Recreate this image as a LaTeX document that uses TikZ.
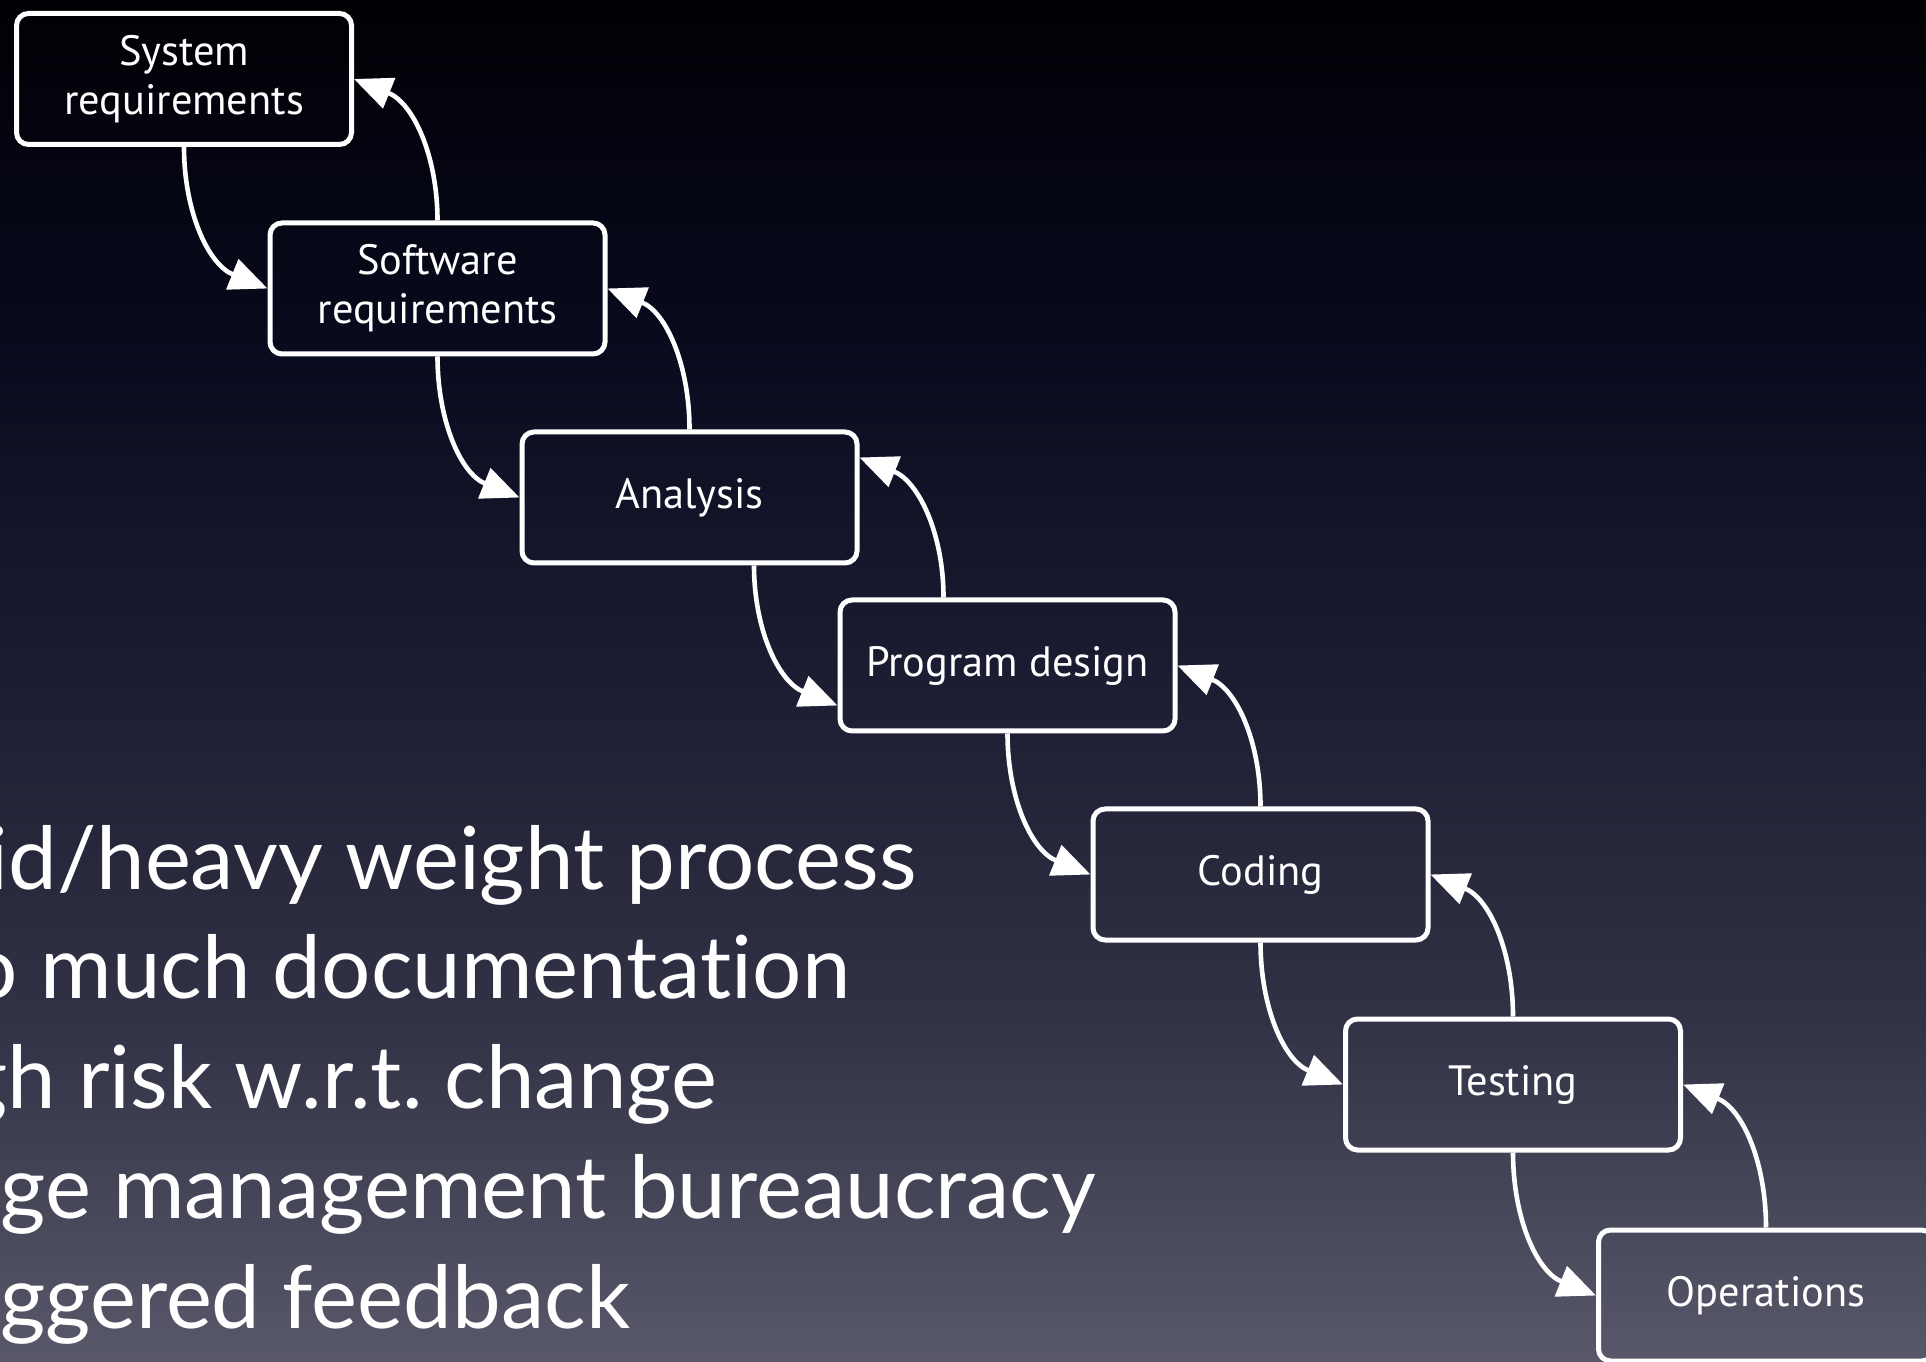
\documentclass[tikz,border=0pt]{standalone}
\usepackage{fontspec}
\setmainfont{PT Sans}
\newfontfamily\bulletfont[Ligatures=NoCommon]{Lato}
\usetikzlibrary{arrows.meta,calc}

% slide background: near-black at the top fading to slate grey at the bottom
\definecolor{bgA}{RGB}{88,88,106}
\definecolor{bgB}{RGB}{50,50,70}
\definecolor{bgC}{RGB}{28,29,50}
\definecolor{bgD}{RGB}{8,10,30}
\definecolor{bgE}{RGB}{0,0,4}
\pgfdeclareverticalshading{slidebg}{100bp}{color(0bp)=(bgA); color(25bp)=(bgA);
  color(37.5bp)=(bgB); color(50bp)=(bgC); color(62.5bp)=(bgD);
  color(75bp)=(bgE); color(100bp)=(bgE)}

\tikzset{
  stage/.style={draw=white, line width=2.5pt, rounded corners=6pt,
    minimum width=167.5pt, minimum height=65.5pt, inner sep=0pt,
    text=white, align=center, font=\fontsize{21.2}{24.5}\selectfont},
  flow/.style={white, line width=2.3pt, -{Triangle[length=19pt,width=16pt]}},
  fwd/.style={flow, out=-90, in=158},
  back/.style={flow, out=90, in=-22},
  point/.style={text=white, anchor=base west, inner sep=0pt,
    font=\bulletfont\fontsize{43.5}{54}\selectfont}
}

\begin{document}
\begin{tikzpicture}[x=0.5pt,y=0.5pt]
\useasboundingbox (0,0) rectangle (1926,1361);
\clip (0,0) rectangle (1926,1361);
\fill[shading=slidebg] (0,0) rectangle (1926,1361);

% waterfall stages
\node[stage] (sys) at (184,1282)    {System\\requirements};
\node[stage] (sw)  at (437.5,1072.5) {Software\\requirements};
\node[stage] (an)  at (689.5,863.5) {Analysis};
\node[stage] (pd)  at (1007.5,695.5) {Program design};
\node[stage] (cod) at (1260.5,486.5) {Coding};
\node[stage] (tst) at (1513,276.5)  {Testing};
\node[stage] (ops) at (1766,65.5)   {Operations};

% forward flow and feedback between neighbouring stages
\draw[fwd]  (sys.south) to (sw.west);
\draw[back] (sw.north)  to (sys.east);
\draw[fwd]  (sw.south)  to (an.west);
\draw[back] (an.north)  to (sw.east);
\draw[fwd]  ([xshift=32.25pt]an.south) to ([yshift=-20pt]pd.west);
\draw[back] ([xshift=-32pt]pd.north)   to ([yshift=20pt]an.east);
\draw[fwd]  (pd.south)  to (cod.west);
\draw[back] (cod.north) to (pd.east);
\draw[fwd]  (cod.south) to (tst.west);
\draw[back] (tst.north) to (cod.east);
\draw[fwd]  (tst.south) to (ops.west);
\draw[back] (ops.north) to (tst.east);

% bullet list running off the left edge
\node[point] (p1) at (8,472)  {\llap{\textbullet\ Rigi}d/heavy weight process};
\node[point] (p2) at (40,363) {\llap{\textbullet\ Too\ }much documentation};
\node[point] (p3) at (7,253)  {\llap{\textbullet\ Hig}h risk w.r.t.\ change};
\node[point] (p4) at (0,143)  {\llap{\textbullet\ Chan}ge management bureaucracy};
\node[point] (p5) at (0,33)   {\llap{\textbullet\ Sta}ggered feedback};
\end{tikzpicture}
\end{document}
